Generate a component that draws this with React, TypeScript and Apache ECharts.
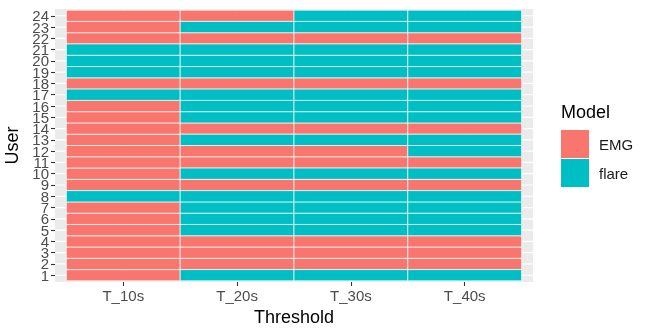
import React, { useEffect, useRef } from "react";
import * as echarts from "echarts";

const thresholds = ["T_10s", "T_20s", "T_30s", "T_40s"];
const users = [1, 2, 3, 4, 5, 6, 7, 8, 9, 10, 11, 12, 13, 14, 15, 16, 17, 18, 19, 20, 21, 22, 23, 24];
const models = ["EMG", "flare"];
const modelColors = ["#F8766D", "#00BFC4"];

// Model per user (users 1..24) for each threshold
const t10 = ["EMG", "EMG", "EMG", "EMG", "EMG", "EMG", "EMG", "flare", "EMG", "EMG", "EMG", "EMG", "EMG", "EMG", "EMG", "EMG", "flare", "EMG", "flare", "flare", "flare", "EMG", "EMG", "EMG"];
const t20 = ["flare", "EMG", "EMG", "EMG", "flare", "flare", "flare", "flare", "EMG", "flare", "EMG", "EMG", "flare", "EMG", "flare", "flare", "flare", "EMG", "flare", "flare", "flare", "EMG", "flare", "EMG"];
const t30 = ["flare", "EMG", "EMG", "EMG", "flare", "flare", "flare", "flare", "EMG", "flare", "EMG", "EMG", "flare", "EMG", "flare", "flare", "flare", "EMG", "flare", "flare", "flare", "EMG", "flare", "flare"];
const t40 = ["flare", "EMG", "EMG", "EMG", "flare", "flare", "flare", "flare", "EMG", "flare", "EMG", "flare", "flare", "EMG", "flare", "flare", "flare", "EMG", "flare", "flare", "flare", "EMG", "flare", "flare"];
const columns = [t10, t20, t30, t40];

const FONT = "'Liberation Sans', Arial, sans-serif";
const X_MIN = 0.4, X_MAX = thresholds.length + 0.6;
const Y_MIN = 0.4, Y_MAX = users.length + 0.6;
// padded so that ECharts' min/max-label overlap logic only affects invisible end entries
const yTickValues = [Y_MIN, ...users, Y_MAX];

export default function App() {
  const ref = useRef<HTMLDivElement>(null);
  useEffect(() => {
    if (!ref.current) return;
    const chart = echarts.init(ref.current, null, { renderer: "svg" });

    const tileSeries = models.map((m, mi) => {
      const data: number[][] = [];
      columns.forEach((col, ci) => {
        col.forEach((val, ui) => {
          if (val === m) data.push([ci + 1, users[ui]]);
        });
      });
      return {
        type: "custom",
        name: m,
        data,
        itemStyle: { color: modelColors[mi] },
        z: 3,
        renderItem: (params: any, api: any) => {
          const x = api.value(0), y = api.value(1);
          const p0 = api.coord([x - 0.5, y + 0.5]);
          const p1 = api.coord([x + 0.5, y - 0.5]);
          return {
            type: "rect",
            shape: { x: p0[0], y: p0[1], width: p1[0] - p0[0], height: p1[1] - p0[1] },
            style: { fill: modelColors[mi], stroke: "#ffffff", lineWidth: 0.7 },
          };
        },
      };
    });

    const gridData: number[][] = [
      ...users.map((u) => [0, u]),
      ...thresholds.map((_, i) => [1, i + 1]),
    ];

    const gridSeries = {
      type: "custom",
      name: "grid",
      data: gridData,
      silent: true,
      z: 1,
      renderItem: (params: any, api: any) => {
        const kind = api.value(0), v = api.value(1);
        const a = kind === 0 ? api.coord([X_MIN, v]) : api.coord([v, Y_MIN]);
        const b = kind === 0 ? api.coord([X_MAX, v]) : api.coord([v, Y_MAX]);
        return {
          type: "line",
          shape: { x1: a[0], y1: a[1], x2: b[0], y2: b[1] },
          style: { stroke: "#ffffff", lineWidth: 1.2 },
        };
      },
    };

    chart.setOption({
      animation: false,
      textStyle: { fontFamily: FONT },
      grid: {
        left: 55,
        right: 117,
        top: 9,
        bottom: 53,
        show: true,
        backgroundColor: "#EBEBEB",
        borderWidth: 0,
        outerBoundsMode: "none",
      },
      xAxis: {
        type: "value",
        min: X_MIN,
        max: X_MAX,
        name: "Threshold",
        nameLocation: "middle",
        nameGap: 25,
        nameTextStyle: { fontSize: 18, color: "#000000", fontFamily: FONT, verticalAlign: "top" },
        axisLine: { show: false },
        splitLine: { show: false },
        axisTick: { show: true, customValues: [1, 2, 3, 4], length: 4, lineStyle: { color: "#333333", width: 1.1 } },
        axisLabel: {
          customValues: [1, 2, 3, 4],
          formatter: (v: number) => thresholds[Math.round(v) - 1],
          showMinLabel: true,
          showMaxLabel: true,
          hideOverlap: false,
          margin: 6,
          fontSize: 15,
          color: "#4D4D4D",
          fontFamily: FONT,
        },
      },
      yAxis: {
        type: "value",
        min: Y_MIN,
        max: Y_MAX,
        name: "User",
        nameLocation: "middle",
        nameGap: 31,
        nameRotate: 90,
        nameTextStyle: { fontSize: 18, color: "#000000", fontFamily: FONT },
        axisLine: { show: false },
        splitLine: { show: false },
        axisTick: { show: true, customValues: yTickValues, length: 4, lineStyle: { color: "#333333", width: 1.1 } },
        axisLabel: {
          customValues: yTickValues,
          formatter: (v: number) => (Number.isInteger(v) ? String(v) : ""),
          showMinLabel: false,
          showMaxLabel: false,
          hideOverlap: false,
          margin: 6,
          fontSize: 15,
          color: "#4D4D4D",
          fontFamily: FONT,
        },
      },
      legend: {
        data: models,
        orient: "vertical",
        left: 561,
        top: 130,
        padding: 0,
        icon: "rect",
        itemWidth: 28,
        itemHeight: 28,
        itemGap: 1,
        itemStyle: { borderWidth: 0 },
        textStyle: { fontSize: 15, color: "#1A1A1A", fontFamily: FONT, padding: [0, 0, 0, 5] },
        selectedMode: false,
      },
      graphic: [
        {
          type: "text",
          left: 561,
          top: 103,
          style: { text: "Model", fontSize: 18, fill: "#000000", fontFamily: FONT },
        },
      ],
      series: [gridSeries, ...tileSeries],
    });

    return () => chart.dispose();
  }, []);

  return (
    <div
      ref={ref}
      style={{ position: "fixed", left: 0, top: 0, width: 650, height: 335 }}
    />
  );
}
